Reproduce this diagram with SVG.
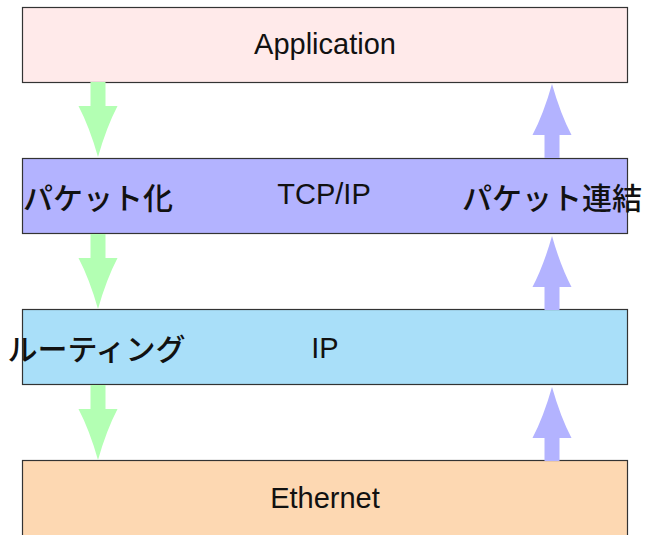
<svg xmlns="http://www.w3.org/2000/svg" width="646" height="535" viewBox="0 0 646 535">
<defs>
<style>
.box{stroke:#333;stroke-width:1.2}
.lbl{font-family:"Liberation Sans",Arial,sans-serif;font-size:29px;fill:#111;text-anchor:middle}
.jp{font-family:"Noto Sans CJK JP",sans-serif;font-size:30px;fill:#111;text-anchor:middle;font-weight:500}
.down{fill:#b3ffb3}
.up{fill:#b3b3ff}
</style>
<path id="dn" d="M-7.5,0 H7.5 V24 H19.5 Q8.5,45 0,75 Q-8.5,45 -19.5,24 H-7.5 Z"/>
<path id="upa" d="M-7.5,0 H7.5 V-23 H19.5 Q8.5,-44 0,-74 Q-8.5,-44 -19.5,-23 H-7.5 Z"/>
</defs>
<g id="application"><rect class="box" x="22.5" y="7.5" width="605" height="75" fill="#ffeaea"/><text class="lbl" x="325" y="53.5">Application</text></g>
<g id="tcpip"><rect class="box" x="22.5" y="158.5" width="605" height="75" fill="#b3b3ff"/><text class="lbl" x="324" y="203.5">TCP/IP</text></g>
<g id="ip"><rect class="box" x="22.5" y="309.5" width="605" height="75" fill="#a9dff9"/><text class="lbl" x="325" y="357.5">IP</text></g>
<g id="ethernet"><rect class="box" x="22.5" y="460.5" width="605" height="90" fill="#fdd8b2"/><text class="lbl" x="325" y="508">Ethernet</text></g>
<g id="connectors">
<use href="#dn" class="down" x="98" y="82"/>
<use href="#dn" class="down" x="98" y="234"/>
<use href="#dn" class="down" x="98" y="385"/>
<use href="#upa" class="up" x="552" y="461"/>
<use href="#upa" class="up" x="552" y="310"/>
<use href="#upa" class="up" x="552" y="158"/>
</g>
<g id="labels">
<text class="jp" x="98" y="208.5">パケット化</text>
<text class="jp" x="552" y="208.5">パケット連結</text>
<text class="jp" x="96.5" y="360">ルーティング</text>
</g>
</svg>
